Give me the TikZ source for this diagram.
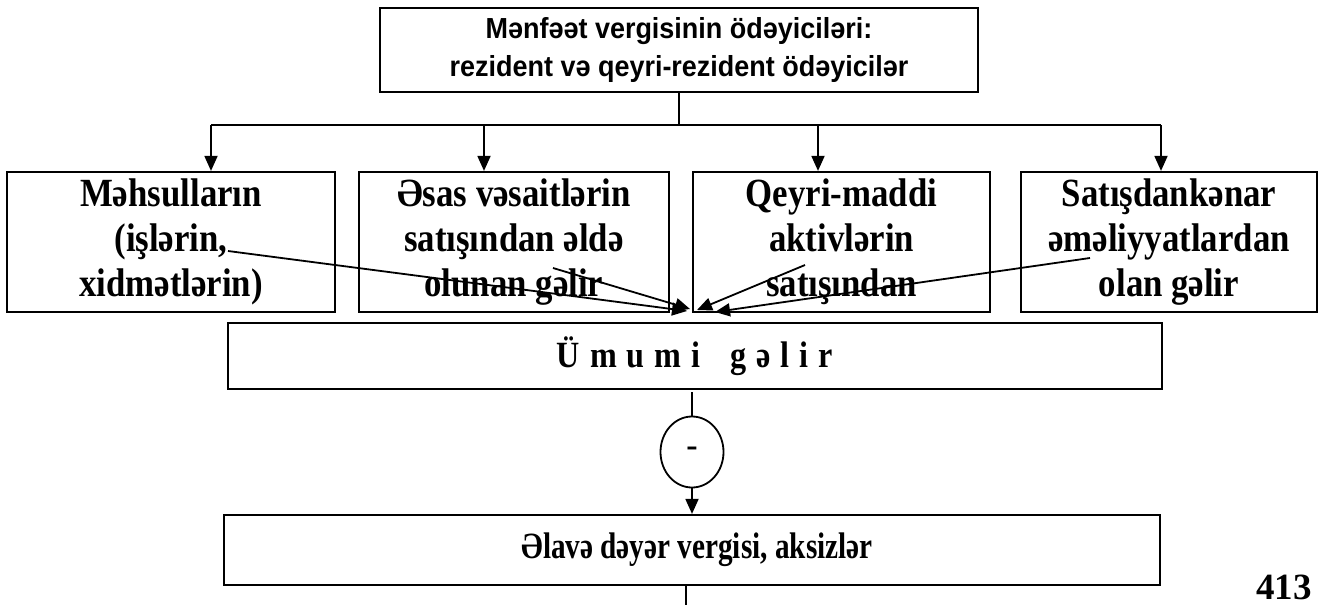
\documentclass[tikz,border=0pt]{standalone}
\usepackage{fontspec}
\setmainfont{Liberation Serif}
\newfontfamily\arialf[FakeStretch=0.93]{Liberation Sans}
\newfontfamily\tallf[FakeStretch=0.87]{Liberation Serif}
\newfontfamily\narf[FakeStretch=0.79]{Liberation Serif}
\usetikzlibrary{arrows.meta,shapes.geometric}
\begin{document}
\begin{tikzpicture}[x=1pt,y=-1pt,
  box/.style={draw,line width=2.2pt,rectangle,inner sep=0pt,align=center},
  conn/.style={line width=1.8pt},
  arr/.style={line width=1.8pt,-{Triangle[length=15pt,width=13pt]}},
  btext/.style={font=\tallf\fontsize{40}{45}\selectfont\bfseries}]
\useasboundingbox (0,0) rectangle (1325,605);
\node[box,minimum width=598pt,minimum height=84pt,font=\arialf\fontsize{29}{38}\selectfont\bfseries] (top) at (679,50)
  {Mənfəət vergisinin ödəyiciləri:\\rezident və qeyri-rezident ödəyicilər};
\node[box,btext,minimum width=328pt,minimum height=140pt] (b1) at (171,242) {Məhsulların\\(işlərin,\\xidmətlərin)};
\node[box,btext,minimum width=310pt,minimum height=140pt] (b2) at (514,242) {Əsas vəsaitlərin\\satışından əldə\\olunan gəlir};
\node[box,btext,minimum width=297pt,minimum height=140pt] (b3) at (841.5,242) {Qeyri-maddi\\aktivlərin\\satışından};
\node[box,btext,minimum width=296pt,minimum height=140pt] (b4) at (1169,242) {Satışdankənar\\əməliyyatlardan\\olan gəlir};
\node[box,minimum width=934pt,minimum height=66pt,font=\tallf\fontsize{37}{40}\selectfont\bfseries] (um) at (695,356)
  {Ü\hspace{10pt}m\hspace{10pt}u\hspace{10pt}m\hspace{10pt}i\hspace{30pt}g\hspace{10pt}ə\hspace{10pt}l\hspace{10pt}i\hspace{10pt}r};
\node[draw,line width=1.8pt,ellipse,minimum width=63pt,minimum height=71pt,inner sep=0pt,font=\fontsize{34}{36}\selectfont\bfseries] (circ) at (692,452) {-};
\node[box,minimum width=936pt,minimum height=70pt,font=\narf\fontsize{37}{40}\selectfont\bfseries] (ela) at (692,550) {\hspace{10pt}Əlavə dəyər vergisi, aksizlər};
\node[font=\fontsize{37}{38}\selectfont\bfseries,anchor=base,inner sep=0pt] (num) at (1284,599) {413};
% top tree
\coordinate (j) at (679,125);
\coordinate (jl) at (211,125);
\coordinate (jr) at (1161,125);
\coordinate (j2) at (484,125);
\coordinate (j3) at (818,125);
\draw[conn] (top.south) -- (j);
\draw[conn] (jl) -- (jr);
\draw[arr] (jl) -- (jl |- b1.north);
\draw[arr] (j2) -- (j2 |- b2.north);
\draw[arr] (j3) -- (j3 |- b3.north);
\draw[arr] (jr) -- (jr |- b4.north);
% diagonal arrows
\coordinate (s1) at (228,251);
\coordinate (e1) at (687,311);
\coordinate (s2) at (553,268);
\coordinate (e2) at (690,309);
\coordinate (s3) at (805,265);
\coordinate (e3) at (697,310);
\coordinate (s4) at (1090,258);
\coordinate (e4) at (715,312);
\draw[arr] (s1) -- (e1);
\draw[arr] (s2) -- (e2);
\draw[arr] (s3) -- (e3);
\draw[arr] (s4) -- (e4);
% lower chain
\coordinate (ctop) at (692,392);
\draw[conn] (ctop) -- (circ.north);
\draw[arr] (circ.south) -- (ela.north);
\coordinate (bot) at (686,605);
\draw[conn] (bot |- ela.south) -- (bot);
\end{tikzpicture}
\end{document}
